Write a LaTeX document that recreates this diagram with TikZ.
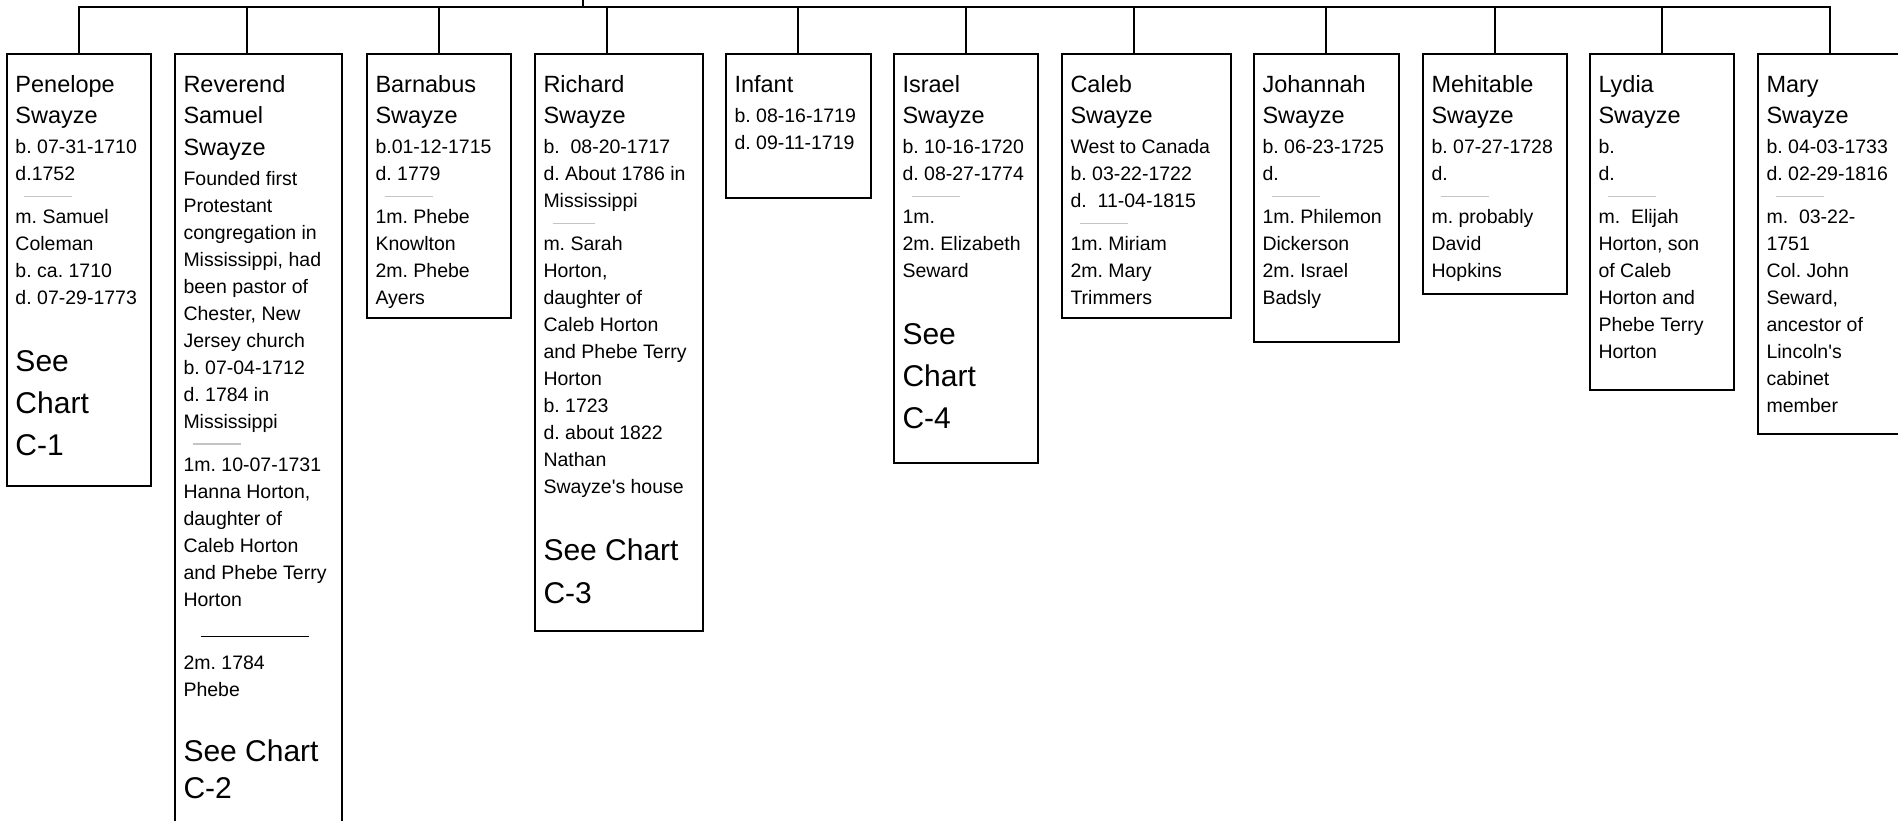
\documentclass[tikz,border=0pt]{standalone}
\usepackage{fontspec}
\setmainfont{Liberation Sans}[Ligatures=TeXOff]
\definecolor{sepgray}{HTML}{C4C4C4}
\newcommand\gFN{\fontsize{23.5}{28}\selectfont}
\newcommand\gFD{\fontsize{19.5}{23}\selectfont}
\newcommand\gFS{\fontsize{30}{36}\selectfont}
\newcommand\gLnm[2]{\baselineskip=#1pt\relax\hbox{\gFN #2}}
\newcommand\gLdt[2]{\baselineskip=#1pt\relax\hbox{\gFD #2}}
\newcommand\gLsc[2]{\baselineskip=#1pt\relax\hbox{\gFS #2}}
\newcommand\gLsep[3]{\baselineskip=#1pt\relax\hbox{\kern#2pt{\color{sepgray}\rule{#3pt}{1.3pt}}}}
\newcommand\gLrule[3]{\baselineskip=#1pt\relax\hbox{\kern#2pt\rule{#3pt}{1pt}}}
\newcommand\gStack[1]{\vbox{\frenchspacing\lineskiplimit=-200pt\lineskip=0pt\hbox{}#1}}
\newcommand\xNa[1]{\gLnm{38}{#1}}
\newcommand\xNb[1]{\gLnm{31.5}{#1}}
\newcommand\xDa[1]{\gLdt{30}{#1}}
\newcommand\xDb[1]{\gLdt{27}{#1}}
\newcommand\xDc[1]{\gLdt{26.5}{#1}}
\newcommand\xSep{\gLsep{16.5}{9}{48}}
\newcommand\xSa[1]{\gLsc{67}{#1}}
\newcommand\xSb[1]{\gLsc{42}{#1}}
\begin{document}
\begin{tikzpicture}[x=1pt,y=-1pt,
  box/.style={draw, line width=1.6pt, inner sep=0pt, outer sep=0pt, anchor=north west},
  txt/.style={inner sep=0pt, outer sep=0pt, anchor=north west},
  ln/.style={line width=1.6pt}]
\clip (0,0) rectangle (1898,820);
% boxes
\node[box, minimum width=144pt, minimum height=432pt] (b1) at (7,54) {};
\node[box, minimum width=167pt, minimum height=800pt] (b2) at (175,54) {};
\node[box, minimum width=144pt, minimum height=264pt] (b3) at (367,54) {};
\node[box, minimum width=168pt, minimum height=577pt] (b4) at (535,54) {};
\node[box, minimum width=145pt, minimum height=144pt] (b5) at (726,54) {};
\node[box, minimum width=144pt, minimum height=409pt] (b6) at (894,54) {};
\node[box, minimum width=169pt, minimum height=264pt] (b7) at (1062,54) {};
\node[box, minimum width=145pt, minimum height=288pt] (b8) at (1254,54) {};
\node[box, minimum width=144pt, minimum height=240pt] (b9) at (1423,54) {};
\node[box, minimum width=144pt, minimum height=336pt] (b10) at (1590,54) {};
\node[box, minimum width=170pt, minimum height=380pt] (b11) at (1758,54) {};
% connectors
\coordinate (tk) at (583,0);
\coordinate (t1) at (79,6.7);
\coordinate (t2) at (247,6.7);
\coordinate (t3) at (439,6.7);
\coordinate (t4) at (607,6.7);
\coordinate (t5) at (798,6.7);
\coordinate (t6) at (966,6.7);
\coordinate (t7) at (1134,6.7);
\coordinate (t8) at (1326,6.7);
\coordinate (t9) at (1495,6.7);
\coordinate (t10) at (1662,6.7);
\coordinate (t11) at (1830,6.7);
\draw[ln] (t1 |- b1.north) -- (t1) -- (t11) -- (t11 |- b11.north);
\draw[ln] (tk) -- (tk |- t1);
\foreach \i in {2,...,10} { \draw[ln] (t\i) -- (t\i |- b\i.north); }
% texts
\node[txt] (n1) at (15.5,54) {\gStack{\xNa{Penelope}\xNb{Swayze}\xDa{b. 07-31-1710}\xDb{d.1752}\xSep\xDc{m. Samuel}\xDb{Coleman}\xDb{b. ca. 1710}\xDb{d. 07-29-1773}\xSa{See}\xSb{Chart}\xSb{C-1}}};
\node[txt] (n2) at (183.5,54) {\gStack{\xNa{Reverend}\xNb{Samuel}\xNb{Swayze}\xDa{Founded first}\xDb{Protestant}\xDb{congregation in}\xDb{Mississippi, had}\xDb{been pastor of}\xDb{Chester, New}\xDb{Jersey church}\xDb{b. 07-04-1712}\xDb{d. 1784 in}\xDb{Mississippi}\xSep\xDc{1m. 10-07-1731}\xDb{Hanna Horton,}\xDb{daughter of}\xDb{Caleb Horton}\xDb{and Phebe Terry}\xDb{Horton}\gLrule{31}{17}{108}\gLdt{32}{2m. 1784}\xDb{Phebe}\gLsc{65}{See Chart}\gLsc{37}{C-2}}};
\node[txt] (n3) at (375.5,54) {\gStack{\xNa{Barnabus}\xNb{Swayze}\xDa{b.01-12-1715}\xDb{d. 1779}\xSep\xDc{1m. Phebe}\xDb{Knowlton}\xDb{2m. Phebe}\xDb{Ayers}}};
\node[txt] (n4) at (543.5,54) {\gStack{\xNa{Richard}\xNb{Swayze}\xDa{b.\ \ 08-20-1717}\xDb{d. About 1786 in}\xDb{Mississippi}\gLsep{16.5}{9}{42}\xDc{m. Sarah}\xDb{Horton,}\xDb{daughter of}\xDb{Caleb Horton}\xDb{and Phebe Terry}\xDb{Horton}\xDb{b. 1723}\xDb{d. about 1822}\xDb{Nathan}\xDb{Swayze's house}\xSa{See Chart}\gLsc{43}{C-3}}};
\node[txt] (n5) at (734.5,54) {\gStack{\xNa{Infant}\xDa{b. 08-16-1719}\xDb{d. 09-11-1719}}};
\node[txt] (n6) at (902.5,54) {\gStack{\xNa{Israel}\xNb{Swayze}\xDa{b. 10-16-1720}\xDb{d. 08-27-1774}\xSep\xDc{1m.}\xDb{2m. Elizabeth}\xDb{Seward}\xSa{See}\xSb{Chart}\xSb{C-4}}};
\node[txt] (n7) at (1070.5,54) {\gStack{\xNa{Caleb}\xNb{Swayze}\xDa{West to Canada}\xDb{b. 03-22-1722}\xDb{d.\ \ 11-04-1815}\xSep\xDc{1m. Miriam}\xDb{2m. Mary}\xDb{Trimmers}}};
\node[txt] (n8) at (1262.5,54) {\gStack{\xNa{Johannah}\xNb{Swayze}\xDa{b. 06-23-1725}\xDb{d.}\xSep\xDc{1m. Philemon}\xDb{Dickerson}\xDb{2m. Israel}\xDb{Badsly}}};
\node[txt] (n9) at (1431.5,54) {\gStack{\xNa{Mehitable}\xNb{Swayze}\xDa{b. 07-27-1728}\xDb{d.}\xSep\xDc{m. probably}\xDb{David}\xDb{Hopkins}}};
\node[txt] (n10) at (1598.5,54) {\gStack{\xNa{Lydia}\xNb{Swayze}\xDa{b.}\xDb{d.}\xSep\xDc{m.\ \ Elijah}\xDb{Horton, son}\xDb{of Caleb}\xDb{Horton and}\xDb{Phebe Terry}\xDb{Horton}}};
\node[txt] (n11) at (1766.5,54) {\gStack{\xNa{Mary}\xNb{Swayze}\xDa{b. 04-03-1733}\xDb{d. 02-29-1816}\xSep\xDc{m.\ \ 03-22-}\xDb{1751}\xDb{Col. John}\xDb{Seward,}\xDb{ancestor of}\xDb{Lincoln's}\xDb{cabinet}\xDb{member}}};
\end{tikzpicture}
\end{document}
